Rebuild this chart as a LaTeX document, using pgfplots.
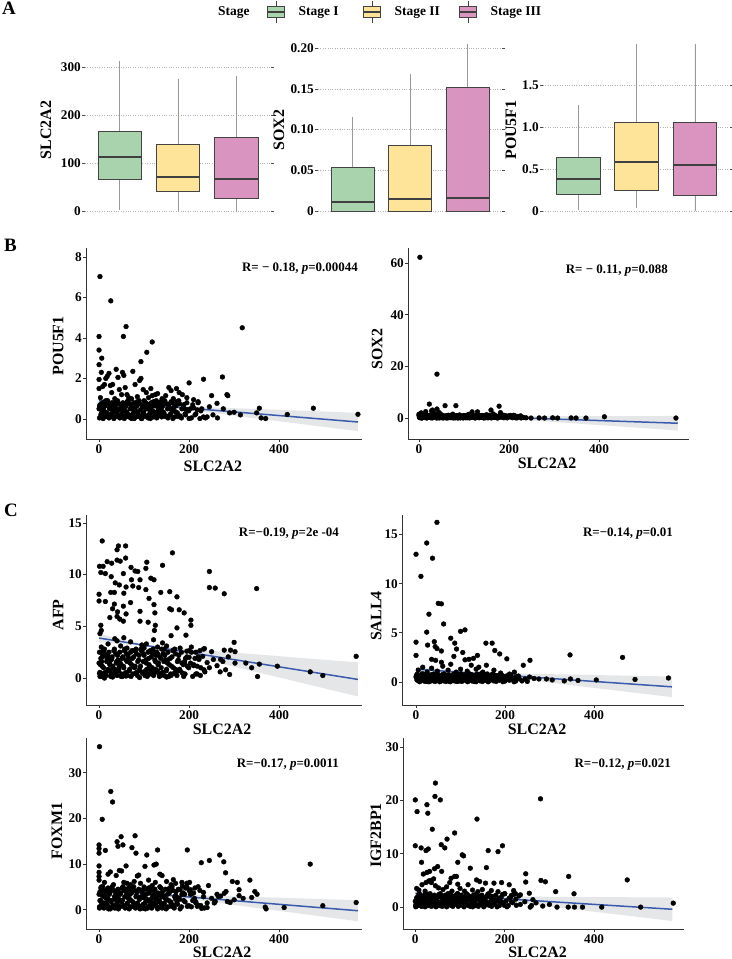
\documentclass[border=0pt]{standalone}
\usepackage{fontspec}
\setmainfont{Liberation Serif}
\usepackage{pgfplots}
\usepackage{pgfplotstable}
\usepgfplotslibrary{statistics}
\pgfplotsset{compat=1.18}

\definecolor{sgreen}{HTML}{A8D3AD}
\definecolor{syellow}{HTML}{FDE499}
\definecolor{spink}{HTML}{D994BF}
\definecolor{boxedge}{HTML}{444444}
\definecolor{whisk}{HTML}{999999}
\definecolor{regblue}{HTML}{3A5BAD}
\definecolor{bandgray}{HTML}{B4B8BE}

\newcommand{\tickfont}{\bfseries\fontsize{13.3}{14}\selectfont}
\newcommand{\labfont}{\bfseries\fontsize{16}{17}\selectfont}
\newcommand{\legfont}{\bfseries\fontsize{13.5}{14}\selectfont}
\newcommand{\annfont}{\bfseries\fontsize{13}{14}\selectfont}

\pgfplotstableread{
x pou sox afp sall fox igf
1 0.05 0.36 2.5 0.63 0.65 0.06
3 0.55 1.08 1.3 0.18 3.68 1.68
5 0.25 0.18 0.4 0.4 1.75 0.98
8 0.80 0.60 2.05 0.02 5.05 2.38
10 0.40 0.84 1.0 0.54 0.93 0.34
12 0.10 0.24 2.8 0.32 2.85 2.1
14 0.65 0.54 0.55 0.76 3.95 0.14
17 0.30 0.02 1.6 0.11 1.2 1.54
19 0.90 0.72 2.2 0.68 2.58 0.7
21 0.15 0.42 0.7 0.05 0.2 2.24
23 0.50 1.02 1.45 0.5 3.4 1.12
26 0.70 0.14 0.16 0.22 2.03 0.28
28 0.20 0.90 1.9 0.72 4.78 1.82
30 0.45 0.06 1.15 0.36 0.76 0.84
33 0.02 0.66 2.65 0.09 4.23 2.52
35 0.60 0.30 0.46 0.58 0.38 0.42
37 0.35 0.96 2.35 0.27 3.1 1.4
40 0.85 0.48 0.25 0.81 1.48 1.96
42 0.12 0.12 1.75 0.14 4.5 0.56
44 0.75 0.78 0.85 0.45 2.3 1.26
47 0.50 1.02 1.45 0.5 3.4 1.12
49 0.70 0.14 0.16 0.22 2.03 0.28
51 0.20 0.90 1.9 0.72 4.78 1.82
54 0.45 0.06 1.15 0.36 0.76 0.84
56 0.02 0.66 2.65 0.09 4.23 2.52
58 0.60 0.30 0.46 0.58 0.38 0.42
61 0.35 0.96 2.35 0.27 3.1 1.4
63 0.85 0.48 0.25 0.81 1.48 1.96
65 0.12 0.12 1.75 0.14 4.5 0.56
68 0.75 0.78 0.85 0.45 2.3 1.26
70 0.05 0.36 2.5 0.63 0.65 0.06
72 0.55 1.08 1.3 0.18 3.68 1.68
75 0.25 0.18 0.4 0.4 1.75 0.98
77 0.80 0.60 2.05 0.02 5.05 2.38
79 0.40 0.84 1.0 0.54 0.93 0.34
82 0.10 0.24 2.8 0.32 2.85 2.1
84 0.65 0.54 0.55 0.76 3.95 0.14
86 0.30 0.02 1.6 0.11 1.2 1.54
89 0.90 0.72 2.2 0.68 2.58 0.7
91 0.15 0.42 0.7 0.05 0.2 2.24
93 0.10 0.24 2.8 0.32 2.85 2.1
96 0.65 0.54 0.55 0.76 3.95 0.14
98 0.30 0.02 1.6 0.11 1.2 1.54
100 0.90 0.72 2.2 0.68 2.58 0.7
103 0.15 0.42 0.7 0.05 0.2 2.24
105 0.50 1.02 1.45 0.5 3.4 1.12
107 0.70 0.14 0.16 0.22 2.03 0.28
110 0.20 0.90 1.9 0.72 4.78 1.82
112 0.45 0.06 1.15 0.36 0.76 0.84
114 0.02 0.66 2.65 0.09 4.23 2.52
117 0.60 0.30 0.46 0.58 0.38 0.42
119 0.35 0.96 2.35 0.27 3.1 1.4
121 0.85 0.48 0.25 0.81 1.48 1.96
124 0.12 0.12 1.75 0.14 4.5 0.56
126 0.75 0.78 0.85 0.45 2.3 1.26
128 0.05 0.36 2.5 0.63 0.65 0.06
131 0.55 1.08 1.3 0.18 3.68 1.68
133 0.25 0.18 0.4 0.4 1.75 0.98
135 0.80 0.60 2.05 0.02 5.05 2.38
138 0.40 0.84 1.0 0.54 0.93 0.34
140 0.60 0.30 0.46 0.58 0.38 0.42
142 0.35 0.96 2.35 0.27 3.1 1.4
145 0.85 0.48 0.25 0.81 1.48 1.96
147 0.12 0.12 1.75 0.14 4.5 0.56
150 0.75 0.78 0.85 0.45 2.3 1.26
153 0.05 0.36 2.5 0.63 0.65 0.06
156 0.55 1.08 1.3 0.18 3.68 1.68
159 0.25 0.18 0.4 0.4 1.75 0.98
162 0.80 0.60 2.05 0.02 5.05 2.38
165 0.40 0.84 1.0 0.54 0.93 0.34
168 0.10 0.24 2.8 0.32 2.85 2.1
171 0.65 0.54 0.55 0.76 3.95 0.14
174 0.30 0.02 1.6 0.11 1.2 1.54
177 0.90 0.72 2.2 0.68 2.58 0.7
180 0.15 0.42 0.7 0.05 0.2 2.24
184 0.50 1.02 1.45 0.5 3.4 1.12
188 0.70 0.14 0.16 0.22 2.03 0.28
192 0.20 0.90 1.9 0.72 4.78 1.82
196 0.45 0.06 1.15 0.36 0.76 0.84
200 0.02 0.66 2.65 0.09 4.23 2.52
205 0.05 0.36 2.5 0.63 0.65 0.06
210 0.55 1.08 1.3 0.18 3.68 1.68
215 0.25 0.18 0.4 0.4 1.75 0.98
220 0.80 0.60 2.05 0.02 5.05 2.38
226 0.40 0.84 1.0 0.54 0.93 0.34
232 0.10 0.24 2.8 0.32 2.85 2.1
2 0.65 0.54 0.55 0.76 3.95 0.14
6 0.30 0.02 1.6 0.11 1.2 1.54
15 0.90 0.72 2.2 0.68 2.58 0.7
25 0.15 0.42 0.7 0.05 0.2 2.24
38 0.50 1.02 1.45 0.5 3.4 1.12
52 0.70 0.14 0.16 0.22 2.03 0.28
66 0.20 0.90 1.9 0.72 4.78 1.82
80 0.45 0.06 1.15 0.36 0.76 0.84
94 0.02 0.66 2.65 0.09 4.23 2.52
108 0.60 0.30 0.46 0.58 0.38 0.42
122 0.35 0.96 2.35 0.27 3.1 1.4
137 0.85 0.48 0.25 0.81 1.48 1.96
152 0.12 0.12 1.75 0.14 4.5 0.56
170 0.75 0.78 0.85 0.45 2.3 1.26
190 0.50 1.02 1.45 0.5 3.4 1.12
4 0.70 0.14 0.16 0.22 2.03 0.28
20 0.20 0.90 1.9 0.72 4.78 1.82
45 0.45 0.06 1.15 0.36 0.76 0.84
73 0.02 0.66 2.65 0.09 4.23 2.52
101 0.60 0.30 0.46 0.58 0.38 0.42
130 0.35 0.96 2.35 0.27 3.1 1.4
160 0.85 0.48 0.25 0.81 1.48 1.96
60 0.12 0.12 1.75 0.14 4.5 0.56
115 0.75 0.78 0.85 0.45 2.3 1.26
0 0.50 1.02 1.45 0.5 3.4 1.12
2 0.70 0.14 0.16 0.22 2.03 0.28
4 0.20 0.90 1.9 0.72 4.78 1.82
7 0.45 0.06 1.15 0.36 0.76 0.84
9 0.02 0.66 2.65 0.09 4.23 2.52
11 0.60 0.30 0.46 0.58 0.38 0.42
13 0.35 0.96 2.35 0.27 3.1 1.4
16 0.85 0.48 0.25 0.81 1.48 1.96
18 0.12 0.12 1.75 0.14 4.5 0.56
20 0.75 0.78 0.85 0.45 2.3 1.26
22 0.05 0.36 2.5 0.63 0.65 0.06
24 0.55 1.08 1.3 0.18 3.68 1.68
27 0.25 0.18 0.4 0.4 1.75 0.98
29 0.80 0.60 2.05 0.02 5.05 2.38
31 0.40 0.84 1.0 0.54 0.93 0.34
34 0.10 0.24 2.8 0.32 2.85 2.1
36 0.65 0.54 0.55 0.76 3.95 0.14
39 0.30 0.02 1.6 0.11 1.2 1.54
41 0.90 0.72 2.2 0.68 2.58 0.7
43 0.15 0.42 0.7 0.05 0.2 2.24
46 0.05 0.36 2.5 0.63 0.65 0.06
48 0.55 1.08 1.3 0.18 3.68 1.68
50 0.25 0.18 0.4 0.4 1.75 0.98
53 0.80 0.60 2.05 0.02 5.05 2.38
55 0.40 0.84 1.0 0.54 0.93 0.34
57 0.10 0.24 2.8 0.32 2.85 2.1
60 0.65 0.54 0.55 0.76 3.95 0.14
62 0.30 0.02 1.6 0.11 1.2 1.54
64 0.90 0.72 2.2 0.68 2.58 0.7
67 0.15 0.42 0.7 0.05 0.2 2.24
69 0.50 1.02 1.45 0.5 3.4 1.12
71 0.70 0.14 0.16 0.22 2.03 0.28
74 0.20 0.90 1.9 0.72 4.78 1.82
76 0.45 0.06 1.15 0.36 0.76 0.84
78 0.02 0.66 2.65 0.09 4.23 2.52
81 0.60 0.30 0.46 0.58 0.38 0.42
83 0.35 0.96 2.35 0.27 3.1 1.4
85 0.85 0.48 0.25 0.81 1.48 1.96
88 0.12 0.12 1.75 0.14 4.5 0.56
90 0.75 0.78 0.85 0.45 2.3 1.26
92 0.45 0.06 1.15 0.36 0.76 0.84
95 0.02 0.66 2.65 0.09 4.23 2.52
97 0.60 0.30 0.46 0.58 0.38 0.42
99 0.35 0.96 2.35 0.27 3.1 1.4
102 0.85 0.48 0.25 0.81 1.48 1.96
104 0.12 0.12 1.75 0.14 4.5 0.56
106 0.75 0.78 0.85 0.45 2.3 1.26
109 0.05 0.36 2.5 0.63 0.65 0.06
111 0.55 1.08 1.3 0.18 3.68 1.68
113 0.25 0.18 0.4 0.4 1.75 0.98
116 0.80 0.60 2.05 0.02 5.05 2.38
118 0.40 0.84 1.0 0.54 0.93 0.34
120 0.10 0.24 2.8 0.32 2.85 2.1
123 0.65 0.54 0.55 0.76 3.95 0.14
125 0.30 0.02 1.6 0.11 1.2 1.54
127 0.90 0.72 2.2 0.68 2.58 0.7
130 0.15 0.42 0.7 0.05 0.2 2.24
132 0.50 1.02 1.45 0.5 3.4 1.12
134 0.70 0.14 0.16 0.22 2.03 0.28
137 0.20 0.90 1.9 0.72 4.78 1.82
139 0.10 0.24 2.8 0.32 2.85 2.1
141 0.65 0.54 0.55 0.76 3.95 0.14
144 0.30 0.02 1.6 0.11 1.2 1.54
146 0.90 0.72 2.2 0.68 2.58 0.7
149 0.15 0.42 0.7 0.05 0.2 2.24
152 0.50 1.02 1.45 0.5 3.4 1.12
155 0.70 0.14 0.16 0.22 2.03 0.28
158 0.20 0.90 1.9 0.72 4.78 1.82
161 0.45 0.06 1.15 0.36 0.76 0.84
164 0.02 0.66 2.65 0.09 4.23 2.52
167 0.60 0.30 0.46 0.58 0.38 0.42
170 0.35 0.96 2.35 0.27 3.1 1.4
173 0.85 0.48 0.25 0.81 1.48 1.96
176 0.12 0.12 1.75 0.14 4.5 0.56
179 0.75 0.78 0.85 0.45 2.3 1.26
183 0.05 0.36 2.5 0.63 0.65 0.06
187 0.55 1.08 1.3 0.18 3.68 1.68
191 0.25 0.18 0.4 0.4 1.75 0.98
195 0.80 0.60 2.05 0.02 5.05 2.38
199 0.40 0.84 1.0 0.54 0.93 0.34
203 0.50 1.02 1.45 0.5 3.4 1.12
208 0.70 0.14 0.16 0.22 2.03 0.28
213 0.20 0.90 1.9 0.72 4.78 1.82
218 0.45 0.06 1.15 0.36 0.76 0.84
224 0.02 0.66 2.65 0.09 4.23 2.52
1 0.60 0.30 0.46 0.58 0.38 0.42
7 0.35 0.96 2.35 0.27 3.1 1.4
13 0.85 0.48 0.25 0.81 1.48 1.96
27 0.12 0.12 1.75 0.14 4.5 0.56
35 0.75 0.78 0.85 0.45 2.3 1.26
}\dense

\pgfplotsset{
  boxax/.style={
    scale only axis, height=170bp,
    xmin=0.4, xmax=3.6, xtick=\empty,
    axis line style={draw=none},
    ymajorgrids, major grid style={dotted, black!30, line width=0.7bp},
    tick align=outside, major tick length=3bp,
    ytick style={black!70, line width=0.7bp},
    yticklabel style={font=\tickfont, inner sep=1bp},
    /pgf/number format/assume math mode=true,
    ylabel style={font=\labfont, anchor=center},
    boxplot/draw direction=y,
    boxplot/box extend=0.75,
    boxplot/whisker extend=0,
    boxplot/every whisker/.style={draw=whisk, line width=0.8bp},
    boxplot/every median/.style={draw=black!75, line width=1.6bp},
    boxplot/every box/.style={draw=boxedge, line width=0.8bp},
  },
  scat/.style={
    scale only axis,
    axis x line*=bottom, axis y line*=left,
    axis line style={black!80, line width=0.7bp, -},
    tick align=outside, major tick length=3bp,
    tick style={black!80, line width=0.7bp},
    ticklabel style={font=\tickfont},
    yticklabel style={inner sep=1bp},
    xticklabel style={inner sep=2bp},
    /pgf/number format/assume math mode=true,
    xtick={0,200,400},
    xlabel={SLC2A2},
    label style={font=\labfont, anchor=center},
  },
  dots/.style={only marks, mark=*, mark size=2.4bp, mark options={draw=black, fill=black}},
  band/.style={fill=bandgray, draw=none, fill opacity=0.35},
  reg/.style={regblue, line width=1.5bp, no marks},
}

\begin{document}
\begin{tikzpicture}
\path[use as bounding box] (0bp,0bp) rectangle (732bp,959bp);

\begin{scope}[x=1bp,y=1bp]
% panel letters
\node[anchor=base west, inner sep=0, font=\bfseries\fontsize{19}{20}\selectfont] at (2,944) {A};
\node[anchor=base west, inner sep=0, font=\bfseries\fontsize{19}{20}\selectfont] at (4,707) {B};
\node[anchor=base west, inner sep=0, font=\bfseries\fontsize{19}{20}\selectfont] at (4,442) {C};

% legend
\node[anchor=base west, inner sep=0, font=\legfont] at (218,943.7) {Stage};
\foreach \cx/\col/\lab in {276/sgreen/Stage I, 372/syellow/Stage II, 468/spink/Stage III}{
  \draw[boxedge, line width=0.7bp] (\cx,958) -- (\cx,952.5);
  \draw[boxedge, line width=0.7bp] (\cx,941.5) -- (\cx,936);
  \filldraw[fill=\col, draw=boxedge, line width=0.7bp] (\cx-8.5,941.5) rectangle (\cx+8.5,952.5);
  \draw[black!75, line width=1.2bp] (\cx-8.5,947) -- (\cx+8.5,947);
  \node[anchor=base west, inner sep=0, font=\legfont] at (\cx+22.5,943.7) {\lab};
}

% annotations
\node[anchor=base east, inner sep=0, font=\annfont] at (358,687) {R= − 0.18, \textit{p}=0.00044};
\node[anchor=base east, inner sep=0, font=\annfont] at (668,685) {R= − 0.11, \textit{p}=0.088};
\node[anchor=base east, inner sep=0, font=\annfont] at (339,422) {R=−0.19, \textit{p}=2e -04};
\node[anchor=base east, inner sep=0, font=\annfont] at (673,422) {R=−0.14, \textit{p}=0.01};
\node[anchor=base east, inner sep=0, font=\annfont] at (339,192) {R=−0.17, \textit{p}=0.0011};
\node[anchor=base east, inner sep=0, font=\annfont] at (671,192) {R=−0.12, \textit{p}=0.021};
\end{scope}

% ---------------- Panel A ----------------
\begin{axis}[boxax, at={(85bp,744bp)}, anchor=south west, width=186bp,
  ymin=-8.3, ymax=345.8, ytick={0,100,200,300},
  ylabel={SLC2A2}, ylabel style={at={(axis description cs:-0.21,0.5)}}]
\addplot[boxplot prepared={draw position=1, lower whisker=2, lower quartile=66, median=112, upper quartile=165, upper whisker=312}, fill=sgreen, draw=boxedge] coordinates {};
\addplot[boxplot prepared={draw position=2, lower whisker=0, lower quartile=41, median=71, upper quartile=139, upper whisker=275}, fill=syellow, draw=boxedge] coordinates {};
\addplot[boxplot prepared={draw position=3, lower whisker=0, lower quartile=26, median=67, upper quartile=153, upper whisker=281}, fill=spink, draw=boxedge] coordinates {};
\end{axis}

\begin{axis}[boxax, at={(318bp,744bp)}, anchor=south west, width=184bp,
  ymin=-0.0049, ymax=0.204, ytick={0,0.05,0.10,0.15,0.20},
  yticklabels={0,0.05,0.10,0.15,0.20},
  ylabel={SOX2}, ylabel style={at={(axis description cs:-0.212,0.5)}}]
\addplot[boxplot prepared={draw position=1, lower whisker=0, lower quartile=0, median=0.011, upper quartile=0.054, upper whisker=0.1155}, fill=sgreen, draw=boxedge] coordinates {};
\addplot[boxplot prepared={draw position=2, lower whisker=0, lower quartile=0, median=0.015, upper quartile=0.081, upper whisker=0.168}, fill=syellow, draw=boxedge] coordinates {};
\addplot[boxplot prepared={draw position=3, lower whisker=0, lower quartile=0, median=0.016, upper quartile=0.152, upper whisker=0.25}, fill=spink, draw=boxedge] coordinates {};
\end{axis}

\begin{axis}[boxax, at={(543bp,744bp)}, anchor=south west, width=187bp,
  ymin=-0.048, ymax=1.976, ytick={0,0.5,1.0,1.5},
  yticklabels={0,0.5,1.0,1.5},
  ylabel={POU5F1}, ylabel style={at={(axis description cs:-0.171,0.5)}}]
\addplot[boxplot prepared={draw position=1, lower whisker=0.01, lower quartile=0.20, median=0.38, upper quartile=0.643, upper whisker=1.26}, fill=sgreen, draw=boxedge] coordinates {};
\addplot[boxplot prepared={draw position=2, lower whisker=0.04, lower quartile=0.24, median=0.58, upper quartile=1.05, upper whisker=2.5}, fill=syellow, draw=boxedge] coordinates {};
\addplot[boxplot prepared={draw position=3, lower whisker=0, lower quartile=0.19, median=0.55, upper quartile=1.06, upper whisker=2.5}, fill=spink, draw=boxedge] coordinates {};
\end{axis}

% ---------------- Panel B ----------------
\begin{axis}[scat, at={(86bp,520bp)}, anchor=south west, width=276bp, height=191bp,
  xmin=-29, xmax=584, ymin=-0.99, ymax=8.44, ytick={0,2,4,6,8},
  ylabel={POU5F1}, ylabel style={at={(axis description cs:-0.101,0.487)}},
  xlabel style={at={(axis description cs:0.46,-0.141)}}]
\addplot[dots] table[x=x, y=pou] {\dense};
\addplot[dots] coordinates {(2,7.03) (26,5.83) (60,4.56) (54,4.07) (0,4.07) (0,3.4) (6,3.0) (0,2.68) (118,3.8) (106,3.29) (93,2.83) (318,4.5) (232,1.96) (274,2.07) (200,1.78) (476,0.53) (575,0.23) (356,0.53) (370,0.02) (360,0.05) (350,0.3) (418,0.22) (314,0.2) (300,0.33) (284,1.2) (286,1.15) (250,1.15) (262,0.77) (276,0.5) (290,0.3) (253,0.2) (240,0.1) (263,0.05)
(0,1.5) (0,1.95) (3,1.05) (5,2.3) (8,1.6) (12,1.7) (15,2.0) (18,2.1) (22,2.25) (25,1.65) (28,1.3) (30,1.7) (35,1.0) (38,2.45) (42,2.05) (45,1.45) (50,1.2) (52,2.3) (55,2.15) (58,1.55) (62,1.2) (66,1.05) (72,1.0) (75,2.35) (80,1.7) (85,1.1) (90,1.9) (93,2.0) (98,1.45) (105,1.3) (110,1.05) (115,1.5) (118,1.15) (125,1.2) (130,1.25) (140,1.0) (148,1.15) (155,1.55) (160,1.4) (165,1.0) (172,1.5) (178,1.3) (185,1.2) (195,1.05) (210,0.95) (220,0.85) (228,0.5) (236,0.05) (245,0.6)};
\addplot[band] coordinates {(0,1.00) (50,0.863) (100,0.735) (150,0.664) (200,0.618) (300,0.532) (400,0.446) (500,0.366) (575,0.30) (575,-0.60) (500,-0.394) (400,-0.114) (300,0.162) (200,0.438) (150,0.574) (100,0.683) (50,0.737) (0,0.78)} -- cycle;
\addplot[reg] coordinates {(0,0.89) (575,-0.15)};
\end{axis}

\begin{axis}[scat, at={(408bp,520bp)}, anchor=south west, width=281bp, height=191bp,
  xmin=-24.4, xmax=600, ymin=-8.1, ymax=65.8, ytick={0,20,40,60},
  ylabel={SOX2}, ylabel style={at={(axis description cs:-0.110,0.47)}},
  xlabel style={at={(axis description cs:0.495,-0.126)}}]
\addplot[dots] table[x=x, y=sox] {\dense};
\addplot[dots] coordinates {(2,62.2) (40,17.0) (23,5.4) (58,4.8) (82,4.8) (178,4.6) (160,3.1) (181,2.1) (118,2.4) (130,2.4) (30,3.1) (40,3.5) (45,2.1) (0,1.5) (5,2.0) (10,1.3) (15,2.5) (20,1.0) (28,2.8) (35,1.8) (50,1.3) (65,1.1) (75,1.5) (90,1.2) (100,0.9) (110,1.4) (140,1.0) (150,1.3) (165,1.6) (190,0.8) (200,0.5) (210,0.6)
(412,0.5) (571,0.0) (215,0.1) (227,0.05) (238,0.1) (249,0.0) (267,0.05) (279,0.0) (297,0.1) (308,0.0) (338,0.05) (349,0.0) (371,0.0)};
\addplot[band] coordinates {(0,2.08) (50,1.494) (100,0.969) (150,0.793) (200,0.777) (300,0.776) (400,0.785) (500,0.793) (575,0.8) (575,-4.8) (500,-3.907) (400,-2.715) (300,-1.524) (200,-0.343) (150,0.233) (100,0.649) (50,0.714) (0,0.72)} -- cycle;
\addplot[reg] coordinates {(0,1.4) (575,-2.0)};
\end{axis}

% ---------------- Panel C ----------------
\begin{axis}[scat, at={(86bp,254bp)}, anchor=south west, width=276bp, height=190bp,
  xmin=-29, xmax=584, ymin=-2.6, ymax=15.76, ytick={0,5,10,15},
  ylabel={AFP}, ylabel style={at={(axis description cs:-0.101,0.474)}},
  xlabel style={at={(axis description cs:0.493,-0.126)}}]
\addplot[dots] table[x=x, y=afp] {\dense};
\addplot[dots] coordinates {(7,13.25) (43,12.77) (59,12.77) (40,12.4) (18,11.25) (28,11.1) (40,11.4) (47,11.3) (59,11.6) (1,10.8) (9,10.8) (4,10.2) (14,10.1) (106,11.2) (104,10.6) (163,12.1) (141,10.9) (80,10.35) (86,10.3) (71,10.7) (54,10.1) (27,9.8) (36,9.2) (72,9.5) (91,9.5) (115,9.65) (122,9.5) (45,9.0) (60,8.8) (75,8.9) (88,8.75) (104,8.55) (26,8.28) (34,8.28) (0,8.1) (55,8.2) (137,8.28) (157,8.35) (173,7.85) (111,7.7) (0,7.45) (14,7.4) (34,7.15) (70,7.3) (122,7.1) (157,6.7) (161,6.6) (178,6.6) (189,6.3) (54,6.95) (30,6.7) (41,6.4) (60,6.2) (91,6.45) (124,6.3) (24,5.85) (40,5.95) (46,5.7) (54,5.5) (91,5.5) (109,5.4) (204,5.6) (204,5.1) (4,5.1) (5,4.6) (2,4.3) (125,5.1) (123,4.6) (173,4.85) (193,4.15) (160,4.1) (121,3.7) (141,3.4)
(245,10.3) (245,8.75) (258,8.7) (278,8.15) (350,8.65) (571,2.1) (234,2.85) (278,2.7) (292,2.7) (300,3.45) (302,2.55) (287,2.05) (302,1.45) (326,1.45) (339,1.0) (356,1.35) (396,1.15) (469,0.6) (497,0.25) (352,0.15) (269,0.6) (281,0.8) (290,0.35) (254,1.8) (275,1.6) (250,2.55) (222,1.8) (233,0.8) (225,0.25)
(5,3.0) (10,2.6) (20,3.3) (35,3.8) (40,3.6) (48,3.1) (55,3.9) (62,2.9) (70,3.5) (82,2.7) (95,3.2) (100,2.9) (105,3.3) (112,2.6) (130,3.0) (145,2.8) (150,3.1) (165,2.7) (180,2.9) (195,2.6) (205,3.0) (215,2.5) (230,2.1) (240,1.5) (245,1.0) (262,1.2) (270,1.8) (235,0.6) (218,0.4) (210,1.2) (200,2.0) (190,1.6) (185,0.5) (12,0.0) (30,0.1) (3,0.3) (60,0.2) (90,0.05) (150,0.1)};
\addplot[band] coordinates {(0,4.27) (50,3.75) (100,3.266) (150,2.997) (200,2.81) (300,2.46) (400,2.12) (500,1.77) (575,1.52) (575,-1.78) (500,-0.99) (400,0.06) (300,1.10) (200,2.15) (150,2.663) (100,3.074) (50,3.29) (0,3.47)} -- cycle;
\addplot[reg] coordinates {(0,3.87) (575,-0.13)};
\end{axis}

\begin{axis}[scat, at={(402bp,254bp)}, anchor=south west, width=282bp, height=190bp,
  xmin=-31.5, xmax=602, ymin=-2.35, ymax=17.0, ytick={0,5,10,15},
  ylabel={SALL4}, ylabel style={at={(axis description cs:-0.092,0.468)}},
  xlabel style={at={(axis description cs:0.479,-0.126)}}]
\addplot[dots] table[x=x, y=sall] {\dense};
\addplot[dots] coordinates {(47,16.25) (24,14.15) (0,13.0) (37,12.6) (11,10.75) (50,8.0) (57,7.95) (29,6.9) (62,5.9) (0,4.05) (24,5.07) (26,3.75) (41,4.1) (43,3.6) (47,3.4) (57,3.15) (0,2.7) (78,4.45) (87,3.95) (91,3.35) (100,5.15) (110,5.3) (105,3.0) (85,2.6) (35,2.3) (44,2.2) (57,2.0) (78,1.8) (110,2.25) (119,2.3) (129,2.4) (138,2.7) (157,3.95) (171,3.95) (177,3.2) (188,2.85) (204,2.35) (241,1.7) (256,2.2) (346,2.75) (464,2.5) (567,0.4) (492,0.25) (405,0.2) (364,0.15) (347,0.3) (333,0.1) (306,0.2) (293,0.3) (276,0.3) (265,0.35) (158,1.7) (141,1.5) (124,1.7) (100,1.3) (221,1.0)
(5,1.2) (15,1.5) (25,1.0) (35,1.4) (48,1.1) (60,1.6) (72,1.2) (90,1.0) (115,1.1) (135,1.3) (150,1.0) (175,1.2) (190,0.9) (210,0.8) (230,0.6) (245,0.3) (255,0.5) (238,0.1) (250,0.05)};
\addplot[band] coordinates {(0,1.554) (50,1.287) (100,1.048) (150,0.936) (200,0.884) (300,0.791) (400,0.704) (500,0.615) (575,0.55) (575,-1.55) (500,-1.145) (400,-0.608) (300,-0.069) (200,0.464) (150,0.724) (100,0.926) (50,0.993) (0,1.046)} -- cycle;
\addplot[reg] coordinates {(0,1.3) (575,-0.5)};
\end{axis}

\begin{axis}[scat, at={(86bp,30bp)}, anchor=south west, width=276bp, height=191bp,
  xmin=-29, xmax=584, ymin=-4.2, ymax=37.6, ytick={0,10,20,30},
  ylabel={FOXM1}, ylabel style={at={(axis description cs:-0.105,0.513)}},
  xlabel style={at={(axis description cs:0.493,-0.12)}}]
\addplot[dots] table[x=x, y=fox] {\dense};
\addplot[dots] coordinates {(1,35.7) (26,25.9) (30,23.6) (7,19.8) (0,14.2) (0,13.4) (0,12.4) (14,13.0) (49,16.0) (80,16.2) (40,14.9) (42,13.9) (53,14.2) (73,13.6) (82,12.4) (106,12.0) (130,13.1) (196,13.1) (60,9.6) (0,9.6) (0,8.2) (0,7.3) (102,9.5) (122,9.8) (127,10.0) (88,7.6) (135,7.8) (227,10.3) (245,10.8) (268,12.0) (277,10.5) (281,8.1) (296,6.2) (307,6.0) (311,4.4) (311,3.1) (335,6.5) (346,4.0) (351,3.4) (339,2.7) (469,10.0) (571,1.6) (497,0.9) (411,0.5) (369,0.6) (371,0.2) (291,1.6) (278,3.6) (282,4.0) (262,3.4) (256,1.5) (243,5.3) (232,3.8) (184,6.0) (201,6.0) (165,6.6) (180,4.4) (203,4.4) (215,1.5) (234,0.4)
(0,6.5) (5,5.0) (12,6.0) (20,7.8) (25,8.3) (32,5.5) (38,7.5) (45,8.6) (50,8.5) (55,6.0) (62,5.8) (70,5.5) (78,6.2) (85,7.4) (92,5.8) (100,5.0) (110,6.5) (118,5.3) (125,6.0) (140,7.5) (150,6.2) (160,5.5) (170,5.8) (185,5.2) (195,5.8) (205,3.5) (212,2.5) (220,1.0) (228,0.3) (240,1.5) (250,2.5) (258,1.8) (265,2.9) (270,3.0) (285,1.8) (300,2.2) (320,2.5) (240,0.5)};
\addplot[band] coordinates {(0,4.96) (50,4.32) (100,3.73) (150,3.43) (200,3.26) (300,2.94) (400,2.64) (500,2.33) (575,2.1) (575,-2.5) (500,-1.53) (400,-0.24) (300,1.06) (200,2.34) (150,2.97) (100,3.47) (50,3.68) (0,3.84)} -- cycle;
\addplot[reg] coordinates {(0,4.4) (575,-0.2)};
\end{axis}

\begin{axis}[scat, at={(403bp,30bp)}, anchor=south west, width=281bp, height=191bp,
  xmin=-27.5, xmax=601, ymin=-4.1, ymax=31.7, ytick={0,10,20,30},
  ylabel={IGF2BP1}, ylabel style={at={(axis description cs:-0.096,0.49)}},
  xlabel style={at={(axis description cs:0.479,-0.12)}}]
\addplot[dots] table[x=x, y=igf] {\dense};
\addplot[dots] coordinates {(45,23.25) (44,20.75) (56,20.1) (0,20.1) (280,20.3) (26,19.2) (28,17.6) (4,17.9) (138,16.5) (38,14.6) (88,13.9) (71,12.75) (58,11.7) (66,11.1) (0,11.5) (13,11.1) (24,10.6) (29,10.9) (195,11.5) (185,10.4) (163,10.6) (105,9.8) (108,9.6) (95,8.4) (14,8.4) (123,7.3) (159,7.4) (50,7.6) (43,7.2) (32,6.7) (26,6.5) (18,6.2) (59,6.7) (88,5.75) (92,5.75) (80,5.4) (77,4.6) (41,5.3) (24,4.6) (36,4.6) (137,5.1) (144,4.8) (157,4.5) (176,4.5) (193,4.6) (210,4.2) (247,6.25) (247,4.7) (281,5.0) (291,4.75) (314,2.9) (343,5.75) (355,2.5) (474,5.1) (577,0.75) (504,0.0) (417,0.0) (374,0.0) (356,0.0) (342,0.0) (317,0.0) (263,1.4) (220,3.1) (235,2.3) (257,0.0)
(3,3.5) (8,3.2) (15,4.2) (22,3.0) (30,4.9) (35,5.0) (45,4.0) (52,3.6) (62,3.3) (70,3.8) (82,3.0) (95,4.3) (100,3.5) (110,3.0) (118,4.2) (128,3.2) (140,2.9) (150,3.3) (170,3.1) (185,2.9) (200,2.5) (215,2.2) (225,1.5) (235,0.5) (245,1.0) (260,0.3) (270,0.8) (285,0.2) (300,0.5) (255,2.6)};
\addplot[band] coordinates {(0,3.13) (50,2.65) (100,2.21) (150,2.04) (200,2.0) (300,1.935) (400,1.888) (500,1.841) (575,1.8) (575,-2.6) (500,-1.859) (400,-0.862) (300,0.135) (200,1.117) (150,1.60) (100,1.95) (50,2.03) (0,2.07)} -- cycle;
\addplot[reg] coordinates {(0,2.6) (575,-0.4)};
\end{axis}

\end{tikzpicture}
\end{document}
